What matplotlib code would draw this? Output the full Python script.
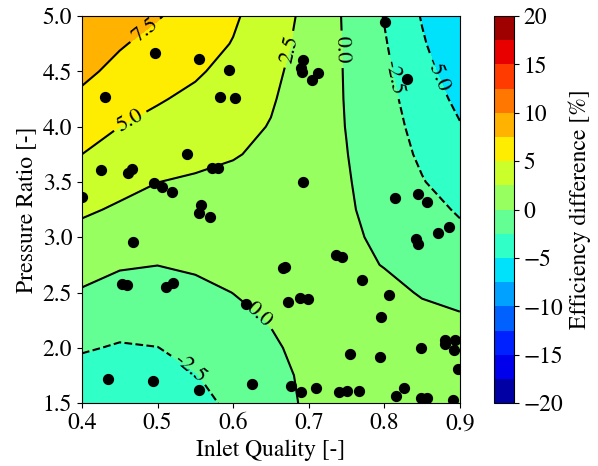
import matplotlib
matplotlib.use('Agg')
import matplotlib.pyplot as plt
import numpy as np

plt.rcParams['font.family'] = ['STIXGeneral', 'Liberation Serif', 'DejaVu Serif']
plt.rcParams['mathtext.fontset'] = 'stix'

# grid of the fitted surface
inlet_quality = [0.40, 0.45, 0.50, 0.55, 0.60, 0.65, 0.70, 0.75, 0.80, 0.85, 0.90]
pressure_ratio = [1.50, 1.75, 2.00, 2.25, 2.50, 2.75, 3.00, 3.25, 3.50, 3.75, 4.00, 4.25, 4.50, 4.75, 5.00]
eff_diff = [
    [-4.30, -4.50, -4.25, -3.25, -2.00, -0.78, 0.30, 0.55, 0.70, 0.50, 0.20],
    [-3.34, -3.65, -3.38, -2.59, -1.50, -0.55, 0.35, 0.60, 0.75, 0.70, 0.60],
    [-2.29, -2.69, -2.53, -1.87, -0.99, -0.21, 0.45, 0.70, 0.75, 0.60, 0.50],
    [-1.24, -1.73, -1.69, -1.16, -0.48, 0.08, 0.60, 0.75, 0.60, 0.35, 0.20],
    [-0.19, -0.77, -0.84, -0.45, 0.02, 0.41, 0.70, 0.60, 0.35, -0.10, -0.45],
    [0.84, 0.20, 0.02, 0.25, 0.55, 0.75, 0.65, 0.35, -0.05, -0.63, -1.25],
    [1.86, 1.20, 0.84, 0.94, 1.08, 1.08, 0.65, 0.30, -0.33, -1.22, -2.00],
    [2.80, 2.25, 1.80, 1.60, 1.40, 1.10, 0.60, 0.20, -0.60, -1.75, -2.73],
    [3.80, 3.08, 2.52, 2.20, 1.85, 1.40, 0.75, 0.15, -0.93, -2.37, -3.70],
    [5.00, 4.25, 3.60, 3.15, 2.68, 1.95, 0.96, 0.05, -1.24, -2.89, -4.30],
    [5.85, 5.00, 4.33, 3.75, 3.15, 2.40, 1.15, -0.05, -1.52, -3.30, -4.85],
    [7.05, 6.00, 5.20, 4.50, 3.65, 2.70, 1.36, -0.12, -1.77, -3.69, -5.56],
    [8.00, 6.90, 6.05, 5.30, 4.25, 3.00, 1.53, -0.17, -2.03, -4.22, -6.30],
    [8.70, 7.70, 6.80, 5.95, 4.90, 3.40, 1.70, -0.23, -2.30, -4.76, -6.80],
    [9.70, 8.80, 7.65, 6.60, 5.31, 3.72, 1.86, -0.31, -2.60, -5.15, -7.20],
]

# sample points
pts_quality = [0.497, 0.555, 0.594, 0.430, 0.583, 0.602, 0.539, 0.425, 0.461, 0.466,
               0.572, 0.580, 0.496, 0.506, 0.519, 0.400, 0.558, 0.555, 0.569,
               0.801, 0.692, 0.690, 0.691, 0.712, 0.704, 0.830, 0.692, 0.814, 0.844, 0.856,
               0.468, 0.453, 0.459, 0.511, 0.521, 0.617, 0.435, 0.494, 0.555, 0.625,
               0.885, 0.871, 0.842, 0.844, 0.736, 0.744, 0.666, 0.669, 0.770, 0.806,
               0.672, 0.688, 0.699, 0.796, 0.880, 0.893, 0.880, 0.892, 0.848, 0.754,
               0.795, 0.897, 0.676, 0.690, 0.710, 0.740, 0.751, 0.766, 0.816, 0.826,
               0.848, 0.857, 0.891]
pts_ratio = [4.663, 4.609, 4.512, 4.270, 4.270, 4.256, 3.752, 3.608, 3.578, 3.614,
             3.623, 3.623, 3.487, 3.451, 3.409, 3.366, 3.291, 3.222, 3.180,
             4.950, 4.602, 4.527, 4.496, 4.487, 4.421, 4.428, 3.502, 3.352, 3.391, 3.321,
             2.957, 2.574, 2.568, 2.552, 2.589, 2.396, 1.718, 1.700, 1.618, 1.670,
             3.092, 3.041, 2.981, 2.939, 2.839, 2.821, 2.719, 2.733, 2.610, 2.477,
             2.417, 2.448, 2.438, 2.281, 2.071, 2.071, 2.032, 1.977, 2.001, 1.941,
             1.917, 1.808, 1.657, 1.603, 1.639, 1.598, 1.609, 1.607, 1.567, 1.634,
             1.549, 1.549, 1.528]

levels = np.arange(-20, 20.1, 2.5)
line_levels = [-5.0, -2.5, 0.0, 2.5, 5.0, 7.5]
cbar_ticks = [-20, -15, -10, -5, 0, 5, 10, 15, 20]

X, Y = np.meshgrid(inlet_quality, pressure_ratio)
Z = np.array(eff_diff)

fig = plt.figure(figsize=(5.98, 4.66), dpi=100)
ax = fig.add_axes([0.137, 0.135, 0.632, 0.8305])
cax = fig.add_axes([0.826, 0.135, 0.0334, 0.8305])

cf = ax.contourf(X, Y, Z, levels=levels, cmap='jet')
cs = ax.contour(X, Y, Z, levels=line_levels, colors='k', linewidths=1.5)

# label positions
label_pos = [(0.485, 4.86), (0.463, 4.06), (0.674, 4.70), (0.748, 4.70),
             (0.807, 4.44), (0.869, 4.47), (0.633, 2.28), (0.543, 1.815)]
ax.clabel(cs, fmt='%1.1f', fontsize=16, manual=label_pos)

ax.scatter(pts_quality, pts_ratio, s=50, c='k', zorder=5)

ax.set_xlim(0.4, 0.9)
ax.set_ylim(1.5, 5.0)
ax.set_xticks([0.4, 0.5, 0.6, 0.7, 0.8, 0.9])
ax.set_yticks([1.5, 2.0, 2.5, 3.0, 3.5, 4.0, 4.5, 5.0])
ax.tick_params(labelsize=17)
ax.set_xlabel('Inlet Quality [-]', fontsize=17)
ax.set_ylabel('Pressure Ratio [-]', fontsize=17)

cb = fig.colorbar(cf, cax=cax, ticks=cbar_ticks)
cb.ax.tick_params(labelsize=17)
cb.set_label('Efficiency difference [%]', fontsize=17)

fig.savefig('out.png', dpi=100)
